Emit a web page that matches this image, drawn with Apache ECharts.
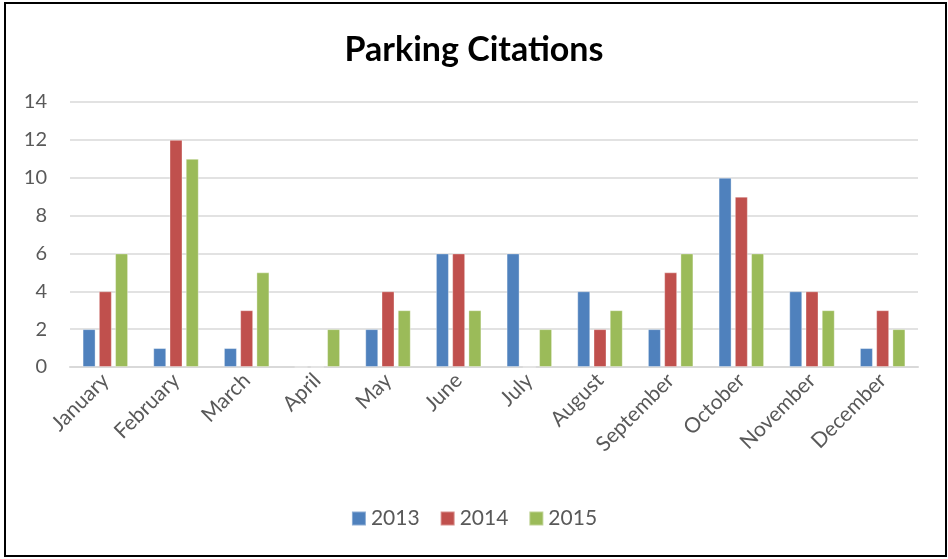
<!DOCTYPE html>
<html><head><meta charset="utf-8">
<script src="https://cdn.jsdelivr.net/npm/echarts@6/dist/echarts.min.js"></script>
<style>html,body{margin:0;padding:0;background:#fff}#c{width:948px;height:559px}</style>
</head><body><div id="c"></div>
<script>
const categories = ['January','February','March','April','May','June','July','August','September','October','November','December'];
const s2013 = [2,1,1,0,2,6,6,4,2,10,4,1];
const s2014 = [4,12,3,0,4,6,0,2,5,9,4,3];
const s2015 = [6,11,5,2,3,3,2,3,6,6,3,2];
const yTicks = {min:0,max:14,interval:2};
const font = 'Lato, "Open Sans", sans-serif';
const chart = echarts.init(document.getElementById('c'));
function ser(name, data, color){
  return {name, type:'bar', data, barWidth:13, barGap:'25%',
    itemStyle:{color, borderColor:'rgba(255,255,255,0.35)', borderWidth:1}};
}
chart.setOption({
  animation:false,
  textStyle:{fontFamily:font},
  graphic:[{type:'rect', shape:{x:5,y:3,width:941,height:553}, style:{fill:'none',stroke:'#000',lineWidth:2}}],
  title:{text:'Parking Citations', left:'center', top:28, textStyle:{fontFamily:font, fontSize:34, fontWeight:'bold', color:'#000'}},
  legend:{bottom:25, left:'center', itemWidth:14, itemHeight:14, itemGap:20, icon:'rect',
    textStyle:{fontFamily:font, fontSize:21, color:'#595959'}},
  grid:{left:70, right:30, top:102, bottom:192},
  xAxis:{type:'category', data:categories, axisTick:{show:false},
    axisLine:{lineStyle:{color:'#d9d9d9', width:2}},
    axisLabel:{rotate:45, fontSize:21, color:'#595959', margin:10, interval:0}},
  yAxis:{type:'value', min:yTicks.min, max:yTicks.max, interval:yTicks.interval,
    axisLine:{show:false}, axisTick:{show:false},
    splitLine:{lineStyle:{color:'#d9d9d9', width:1.5}},
    axisLabel:{fontSize:20, color:'#595959', margin:23}},
  series:[ser('2013',s2013,'#4F81BD'), ser('2014',s2014,'#C0504D'), ser('2015',s2015,'#9BBB59')]
});
</script></body></html>
